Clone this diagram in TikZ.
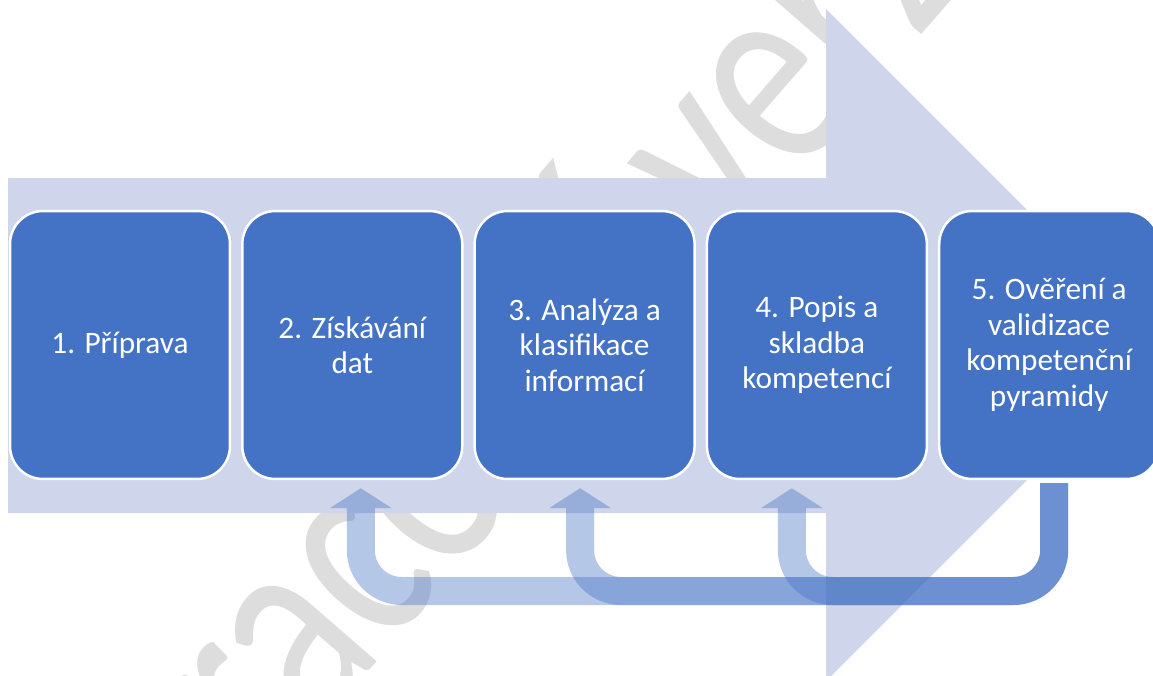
\documentclass[tikz,border=0pt]{standalone}
\usepackage{fontspec}
\setmainfont{Carlito}
\usetikzlibrary{arrows.meta}
\definecolor{boxblue}{HTML}{4472C4}
\definecolor{lavender}{HTML}{CFD5EA}
\definecolor{wmgray}{HTML}{DDDDDD}
\tikzset{
  stepbox/.style={draw=white, line width=0.05cm, fill=boxblue, rounded corners=0.66cm,
    minimum width=4.4cm, minimum height=5.36cm, text=white, align=center,
    font=\fontsize{17.8pt}{20.2pt}\selectfont},
  backarrow/.style={draw=boxblue, line width=0.56cm, rounded corners=0.82cm,
    -{Triangle[width=1.22cm,length=0.4cm]}},
  watermark/.style={text=wmgray, font=\fontsize{126pt}{126pt}\selectfont, inner sep=0pt}
}
\begin{document}
\begin{tikzpicture}[x=0.02cm,y=-0.02cm]
  \useasboundingbox (0,0) rectangle (1153,676);
  \clip (0,0) rectangle (1153,676);
  % watermark behind everything
  \begin{scope}[shift={(192,874)}, rotate=49, yscale=1.3]
    \node[watermark, transform shape, anchor=base west] (wm) at (0,0) {pracovní verze};
  \end{scope}
  % big process arrow
  \fill[lavender] (8,178) -- (826,178) -- (826,9) -- (1162,345) -- (826,681) -- (826,513) -- (8,513) -- cycle;
  % steps
  \node[stepbox] (b1) at (120,345) {1. Příprava};
  \node[stepbox] (b2) at (352.3,345) {2. Získávání\\dat};
  \node[stepbox] (b3) at (584.6,345) {3. Analýza a\\klasifikace\\informací};
  \node[stepbox] (b4) at (816.9,345) {4. Popis a\\skladba\\kompetencí};
  \node[stepbox] (b5) at (1049.2,345) {5. Ověření a\\validizace\\kompetenční\\pyramidy};
  % feedback arrows
  \coordinate (ret) at (0,591);
  \foreach \t/\dx in {b2/0.17cm, b3/-0.09cm, b4/-0.5cm}{
    \begin{scope}[transparency group, opacity=0.4]
      \draw[backarrow] ([xshift=0.1cm,yshift=-0.06cm]b5.south) |- ([xshift=\dx]\t.south |- ret)
        -- ([xshift=\dx,yshift=-0.16cm]\t.south);
    \end{scope}
  }
\end{tikzpicture}
\end{document}
